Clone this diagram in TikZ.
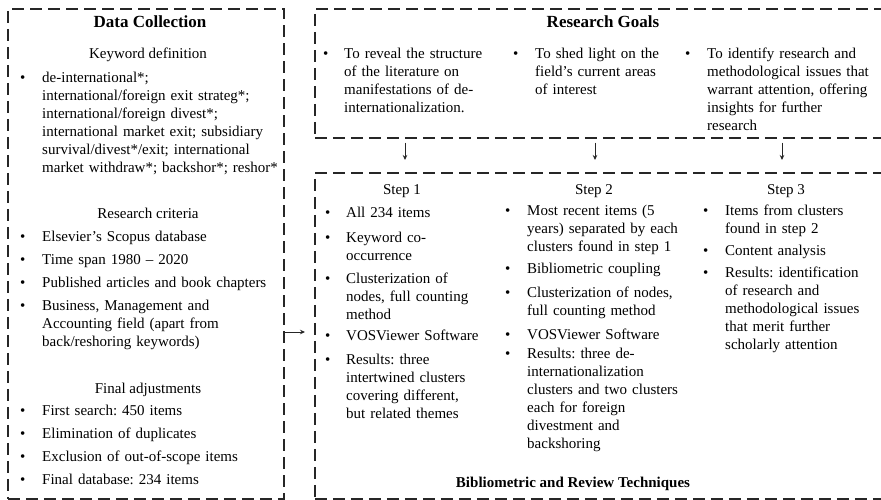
\documentclass[tikz,border=0pt]{standalone}
\usepackage{fontspec}
\setmainfont{Liberation Serif}
\usetikzlibrary{arrows.meta}
\frenchspacing
\begin{document}
\begin{tikzpicture}[x=1pt,y=-1pt,
  box/.style={draw=black!85, line width=1.5pt, dash pattern=on 12pt off 6pt, anchor=north west, inner sep=0pt},
  bigttl/.style={font=\fontsize{17}{20}\selectfont\bfseries, anchor=base, inner sep=0pt},
  ttl/.style={font=\fontsize{15}{18}\selectfont\bfseries, anchor=base, inner sep=0pt},
  sub/.style={font=\fontsize{15}{18}\selectfont, anchor=base, inner sep=0pt},
  bul/.style={font=\fontsize{15}{18}\selectfont, anchor=base west, inner sep=0pt},
  itm/.style={font=\fontsize{15}{18}\selectfont\frenchspacing, anchor=base west, inner sep=0pt, align=left, text width=240pt},
  arr/.style={-{Stealth[length=5pt,width=4.5pt]}, line width=0.8pt, draw=black!85}
]
\useasboundingbox (0,0) rectangle (881,499);
\clip (0,0) rectangle (881,499);

% boxes
\node[box, minimum width=276pt, minimum height=490pt] (dc) at (7,8) {};
\node[box, minimum width=590pt, minimum height=129pt] (rg) at (314,8) {};
\node[box, minimum width=590pt, minimum height=326pt] (st) at (314,172) {};

% ---------- Data Collection ----------
\node[bigttl] (dct) at (150,27) {Data Collection};
\node[sub] (kd) at (148,58) {Keyword definition};
\node[bul] (kb1) at (20,82) {•};
\node[itm] (k1) at (42,82) {de-international*;\\international/foreign exit strateg*;\\international/foreign divest*;\\international market exit; subsidiary\\survival/divest*/exit; international\\market withdraw*; backshor*; reshor*};

\node[sub] (rc) at (148,218) {Research criteria};
\node[bul] (rb1) at (20,241) {•};
\node[itm] (r1) at (42,241) {Elsevier’s Scopus database};
\node[bul] (rb2) at (20,264) {•};
\node[itm] (r2) at (42,264) {Time span 1980 – 2020};
\node[bul] (rb3) at (20,287) {•};
\node[itm] (r3) at (42,287) {Published articles and book chapters};
\node[bul] (rb4) at (20,310) {•};
\node[itm] (r4) at (42,310) {Business, Management and\\Accounting field (apart from\\back/reshoring keywords)};

\node[sub] (fa) at (148,393) {Final adjustments};
\node[bul] (fb1) at (20,415) {•};
\node[itm] (f1) at (42,415) {First search: 450 items};
\node[bul] (fb2) at (20,438) {•};
\node[itm] (f2) at (42,438) {Elimination of duplicates};
\node[bul] (fb3) at (20,461) {•};
\node[itm] (f3) at (42,461) {Exclusion of out-of-scope items};
\node[bul] (fb4) at (20,484) {•};
\node[itm] (f4) at (42,484) {Final database: 234 items};

% ---------- Research Goals ----------
\node[bigttl] (rgt) at (603,27) {Research Goals};
\node[bul] (gb1) at (323,58) {•};
\node[itm] (g1) at (344,58) {To reveal the structure\\of the literature on\\manifestations of de-\\internationalization.};
\node[bul] (gb2) at (513,58) {•};
\node[itm] (g2) at (535,58) {To shed light on the\\field’s current areas\\of interest};
\node[bul] (gb3) at (685,58) {•};
\node[itm] (g3) at (707,58) {To identify research and\\methodological issues that\\warrant attention, offering\\insights for further\\research};

% ---------- Steps ----------
\node[sub] (s1) at (402,194) {Step 1};
\node[sub] (s2) at (594,194) {Step 2};
\node[sub] (s3) at (786,194) {Step 3};

\node[bul] (ab1) at (325,217) {•};
\node[itm] (a1) at (346,217) {All 234 items};
\node[bul] (ab2) at (325,242) {•};
\node[itm] (a2) at (346,242) {Keyword co-\\occurrence};
\node[bul] (ab3) at (325,283) {•};
\node[itm] (a3) at (346,283) {Clusterization of\\nodes, full counting\\method};
\node[bul] (ab4) at (325,340) {•};
\node[itm] (a4) at (346,340) {VOSViewer Software};
\node[bul] (ab5) at (325,364) {•};
\node[itm] (a5) at (346,364) {Results: three\\intertwined clusters\\covering different,\\but related themes};

\node[bul] (bb1) at (505,215) {•};
\node[itm] (b1) at (527,215) {Most recent items (5\\years) separated by each\\clusters found in step 1};
\node[bul] (bb2) at (505,273) {•};
\node[itm] (b2) at (527,273) {Bibliometric coupling};
\node[bul] (bb3) at (505,297) {•};
\node[itm] (b3) at (527,297) {Clusterization of nodes,\\full counting method};
\node[bul] (bb4) at (505,339) {•};
\node[itm] (b4) at (527,339) {VOSViewer Software};
\node[bul] (bb5) at (505,358) {•};
\node[itm] (b5) at (527,358) {Results: three de-\\internationalization\\clusters and two clusters\\each for foreign\\divestment and\\backshoring};

\node[bul] (cb1) at (703,215) {•};
\node[itm] (c1) at (725,215) {Items from clusters\\found in step 2};
\node[bul] (cb2) at (703,255) {•};
\node[itm] (c2) at (725,255) {Content analysis};
\node[bul] (cb3) at (703,277) {•};
\node[itm] (c3) at (725,277) {Results: identification\\of research and\\methodological issues\\that merit further\\scholarly attention};

\node[ttl] (brt) at (573,487) {Bibliometric and Review Techniques};

% ---------- connectors ----------
\coordinate (d1) at (405,160);
\coordinate (d2) at (595,160);
\coordinate (d3) at (782,160);
\draw[arr] (rg.south -| d1) ++(0,4) -- (d1);
\draw[arr] (rg.south -| d2) ++(0,4) -- (d2);
\draw[arr] (rg.south -| d3) ++(0,4) -- (d3);
\coordinate (e1) at (305,332);
\draw[arr] (dc.east |- e1) -- (e1);
\end{tikzpicture}
\end{document}
